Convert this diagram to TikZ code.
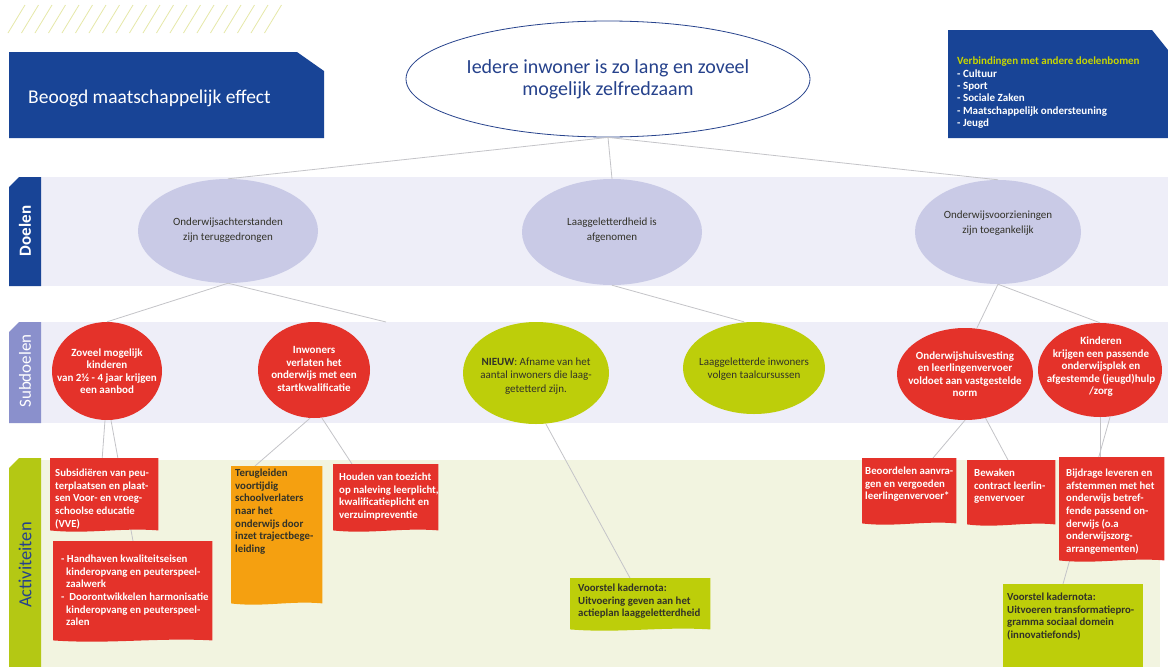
\documentclass[tikz,border=0pt]{standalone}
\usepackage{fontspec}
\setmainfont{Carlito}
\usetikzlibrary{shapes.geometric,calc}
\pgfdeclarelayer{front}
\pgfsetlayers{main,front}
\definecolor{dblue}{RGB}{24,68,150}
\definecolor{tblue}{RGB}{38,66,140}
\definecolor{lav}{RGB}{201,202,230}
\definecolor{bandlav}{RGB}{238,238,248}
\definecolor{subtab}{RGB}{138,144,204}
\definecolor{myred}{RGB}{228,50,42}
\definecolor{mygreen}{RGB}{189,206,10}
\definecolor{tabgreen}{RGB}{180,200,20}
\definecolor{myorange}{RGB}{245,160,16}
\definecolor{bandgreen}{RGB}{242,244,224}
\definecolor{hatch}{RGB}{230,232,168}
\definecolor{linegray}{RGB}{196,196,200}
\definecolor{ygreen}{RGB}{200,214,0}
\definecolor{darktext}{RGB}{50,50,40}
\newcommand\wavefill[2]{\fill[#2] (#1.north west) -- (#1.north east) -- (#1.south east)
  .. controls ($(#1.south east)!0.35!(#1.south west)+(0,-3)$) and ($(#1.south east)!0.65!(#1.south west)+(0,4)$) .. (#1.south west) -- cycle;}
\begin{document}
\begin{tikzpicture}[x=1pt,y=-1pt,
  link/.style={draw=linegray, line width=0.8pt},
  goal/.style={ellipse, fill=lav, inner sep=0},
  goaltxt/.style={inner sep=0, text=darktext, align=center, font=\fontsize{11}{14.5}\selectfont},
  sub/.style={ellipse, inner sep=0},
  subw/.style={sub, fill=myred},
  subg/.style={sub, fill=mygreen},
  subwtxt/.style={inner sep=0, align=center, text=white, font=\bfseries\fontsize{11}{12.5}\selectfont},
  subgtxt/.style={inner sep=0, align=center, text=darktext, font=\fontsize{11}{13.5}\selectfont},
  actbox/.style={rectangle, inner sep=0, anchor=north west},
  btxt/.style={anchor=north west, inner sep=0, align=left,
    font=\bfseries\fontsize{10.8}{12.6}\selectfont},
  wtxt/.style={btxt, text=white},
  dtxt/.style={btxt, text=darktext},
  tabtxt/.style={rotate=90, inner sep=0}
]
\useasboundingbox (0,0) rectangle (1168,667);
\fill[white] (0,0) rectangle (1168,667);

% hatching
\foreach \k in {0,...,19}{
  \draw[hatch, line width=0.8pt] (8+13.5*\k,33) -- (25+13.5*\k,5);
}

% header box
\fill[dblue] (9,52) -- (297,52) -- (324,71) -- (324,138) -- (9,138) -- cycle;
\node[anchor=west, text=white, inner sep=0, font=\fontsize{19.5}{22}\selectfont] (hdr) at (28,98) {Beoogd maatschappelijk effect};

% right box
\fill[dblue] (948,30) -- (1152,30) -- (1168,50) -- (1168,138) -- (948,138) -- cycle;
\node[wtxt, font=\bfseries\fontsize{11}{12.3}\selectfont] (links) at (957,57)
  {{\color{ygreen}Verbindingen met andere doelenbomen}\\- Cultuur\\- Sport\\- Sociale Zaken\\- Maatschappelijk ondersteuning\\- Jeugd};

% bands
\fill[bandlav] (41,177) rectangle (1168,286);
\fill[dblue] (9,187) -- (19,177) -- (41,177) -- (41,286) -- (9,286) -- cycle;
\node[tabtxt, text=white, font=\bfseries\fontsize{17}{20}\selectfont] (tdoel) at (25,231) {Doelen};

\fill[bandlav] (41,322) rectangle (1168,423);
\fill[subtab] (9,332) -- (19,322) -- (41,322) -- (41,423) -- (9,423) -- cycle;
\node[tabtxt, text=white, font=\fontsize{17}{20}\selectfont] (tsub) at (25,371) {Subdoelen};

\fill[bandgreen] (41,460) rectangle (1160,667);
\fill[tabgreen] (9,468) -- (19,458) -- (41,458) -- (41,667) -- (9,667) -- cycle;
\node[tabtxt, text=tblue, font=\fontsize{18.5}{20}\selectfont] (tact) at (25,565) {Activiteiten};

% top ellipse
\node[ellipse, draw=tblue, line width=0.8pt, fill=white, minimum width=404, minimum height=116, inner sep=0,
  text=tblue, align=center, font=\fontsize{20}{22}\selectfont] (top) at (608,79)
  {Iedere inwoner is zo lang en zoveel\\mogelijk zelfredzaam};

% goals
\node[goal, minimum width=180, minimum height=104] (g1) at (228,231) {};
\node[goaltxt] (g1t) at (228,230) {Onderwijsachterstanden\\zijn teruggedrongen};
\node[goal, minimum width=180, minimum height=106] (g2) at (612,232) {};
\node[goaltxt] (g2t) at (612,230) {Laaggeletterdheid is\\afgenomen};
\node[goal, minimum width=166, minimum height=104] (g3) at (998,232) {};
\node[goaltxt] (g3t) at (998,223) {Onderwijsvoorzieningen\\zijn toegankelijk};

% connectors top -> goals
\draw[link] (top.south) -- (g1.north);
\draw[link] (top.south) -- (g2.north);
\draw[link] (top.south) -- (g3.north);

% subgoals
\node[subw, minimum width=110, minimum height=98] (s1) at (107,371) {};
\node[subwtxt] (s1t) at (107,371) {Zoveel mogelijk\\kinderen\\van 2½ - 4 jaar krijgen\\een aanbod};
\node[subw, minimum width=112, minimum height=96] (s2) at (314,370) {};
\node[subwtxt] (s2t) at (314,369) {Inwoners\\verlaten het\\onderwijs met een\\startkwalificatie};
\node[subg, minimum width=146, minimum height=102] (s3) at (536,373) {};
\node[subgtxt] (s3t) at (536,376) {\textbf{NIEUW}: Afname van het\\aantal inwoners die laag-\\getetterd zijn.};
\node[subg, minimum width=142, minimum height=92] (s4) at (754,368) {};
\node[subgtxt] (s4t) at (754,369) {Laaggeletterde inwoners\\volgen taalcursussen};
\node[subw, minimum width=136, minimum height=92] (s5) at (965,374) {};
\node[subwtxt] (s5t) at (965,374) {Onderwijshuisvesting\\en leerlingenvervoer\\voldoet aan vastgestelde\\norm};
\node[subw, minimum width=124, minimum height=94] (s6) at (1100,370) {};
\node[subwtxt] (s6t) at (1101,367) {Kinderen\\krijgen een passende\\onderwijsplek en\\afgestemde (jeugd)hulp\\/zorg};

\coordinate (loose) at (386,322);
\draw[link] (g1.south) -- (s1.north);
\draw[link] (g1.south) -- (loose);
\draw[link] (g2.south) -- ([xshift=-10]s4.north);
\draw[link] (g3.south) -- ([xshift=12]s5.north);
\draw[link] (g3.south) -- (s6.north);

% activity boxes (geometry)
\node[actbox, minimum width=108, minimum height=72] (a1) at (50,458) {};
\node[actbox, minimum width=159, minimum height=99] (a2) at (53,541) {};
\node[actbox, minimum width=91, minimum height=137] (a3) at (231,466) {};
\node[actbox, minimum width=105, minimum height=66] (a4) at (333,464) {};
\node[actbox, minimum width=140, minimum height=51] (a5) at (570,578) {};
\node[actbox, minimum width=94, minimum height=65] (a6) at (862,458) {};
\node[actbox, minimum width=88, minimum height=64] (a7) at (967,460) {};
\node[actbox, minimum width=105, minimum height=103] (a8) at (1059,457) {};
\node[actbox, minimum width=140, minimum height=83] (a9) at (1003,584) {};

% connectors subgoals -> activities (behind boxes)
\draw[link] ([xshift=-2]s1.south) -- ([xshift=-2]a1.north);
\draw[link] ([xshift=4]s1.south) -- ([xshift=80]a2.north west);
\draw[link] ([xshift=-4]s2.south) -- ([xshift=24]a3.north west);
\draw[link] ([xshift=8]s2.south) -- ([xshift=19]a4.north west);
\draw[link] ([xshift=10]s3.south) -- ([xshift=60]a5.north west);
\draw[link] (s5.south) -- ([xshift=71]a6.north west);
\draw[link] (s5.-65) -- ([xshift=41]a7.north west);
\draw[link] (s6.south) -- ([xshift=41]a8.north west);
\draw[link] ([xshift=10]s6.south) -- ([xshift=60]a9.north west);

\begin{pgfonlayer}{front}
\wavefill{a1}{myred}
\wavefill{a2}{myred}
\wavefill{a3}{myorange}
\wavefill{a4}{myred}
\wavefill{a5}{mygreen}
\wavefill{a6}{myred}
\wavefill{a7}{myred}
\wavefill{a8}{myred}
\fill[mygreen] (a9.north west) rectangle (a9.south east);

\node[wtxt] (t1) at ([shift={(5,11)}]a1.north west)
  {Subsidiëren van peu-\\terplaatsen en plaat-\\sen Voor- en vroeg-\\schoolse educatie\\(VVE)};
\node[wtxt] (t2) at ([shift={(8,14)}]a2.north west)
  {- Handhaven kwaliteitseisen\\\hspace*{5pt}kinderopvang en peuterspeel-\\\hspace*{5pt}zaalwerk\\-~~Doorontwikkelen harmonisatie\\\hspace*{5pt}kinderopvang en peuterspeel-\\\hspace*{5pt}zalen};
\node[dtxt] (t3) at ([shift={(4,3)}]a3.north west)
  {Terugleiden\\voortijdig\\schoolverlaters\\naar het\\onderwijs door\\inzet trajectbege-\\leiding};
\node[wtxt] (t4) at ([shift={(6,9)}]a4.north west)
  {Houden van toezicht\\op naleving leerplicht,\\kwalificatieplicht en\\verzuimpreventie};
\node[dtxt] (t5) at ([shift={(8,6)}]a5.north west)
  {Voorstel kadernota:\\Uitvoering geven aan het\\actieplan laaggeletterdheid};
\node[wtxt] (t6) at ([shift={(3,9)}]a6.north west)
  {Beoordelen aanvra-\\gen en vergoeden\\leerlingenvervoer*};
\node[wtxt] (t7) at ([shift={(7,9)}]a7.north west)
  {Bewaken\\contract leerlin-\\genvervoer};
\node[wtxt] (t8) at ([shift={(7,12)}]a8.north west)
  {Bijdrage leveren en\\afstemmen met het\\onderwijs betref-\\fende passend on-\\derwijs (o.a\\onderwijszorg-\\arrangementen)};
\node[dtxt] (t9) at ([shift={(4,9)}]a9.north west)
  {Voorstel kadernota:\\Uitvoeren transformatiepro-\\gramma sociaal domein\\(innovatiefonds)};
\end{pgfonlayer}
\end{tikzpicture}
\end{document}
